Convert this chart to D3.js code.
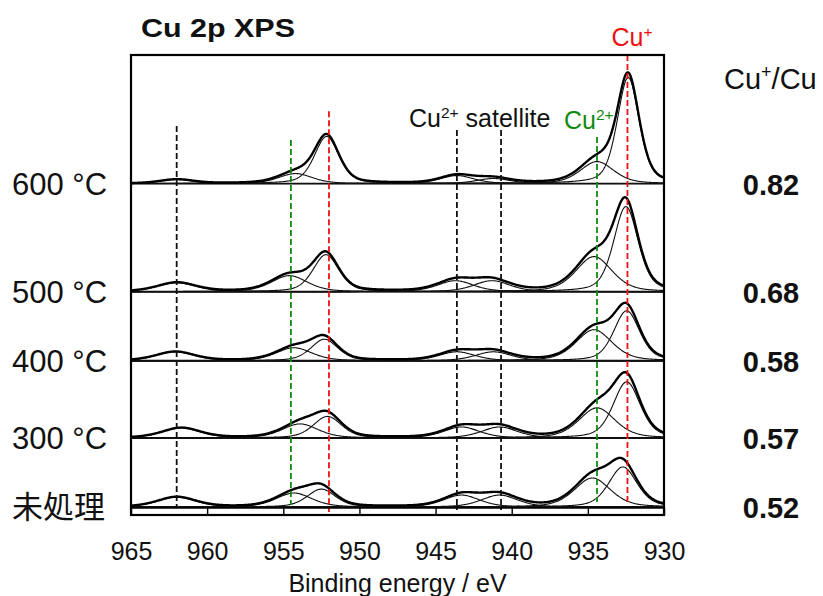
<!DOCTYPE html>
<html>
<head>
<meta charset="utf-8">
<script src="https://cdn.jsdelivr.net/npm/d3@7"></script>
<style>
  body { margin: 0; background: #fff; }
  text { font-family: "Liberation Sans", Arial, "Noto Sans CJK JP", sans-serif; }
</style>
</head>
<body>
<svg id="chart" width="823" height="596"></svg>
<script>
// ---- data -------------------------------------------------------------
const sampleLabels = ["600 °C", "500 °C", "400 °C", "300 °C", "未処理"];
const cuRatios = ["0.82", "0.68", "0.58", "0.57", "0.52"];
// vertical stacking offset of each spectrum (a.u.)
const stackOffsets = [288.4, 192.0, 130.4, 61.6, 0];
const energyTicks = [965, 960, 955, 950, 945, 940, 935, 930];

// fitted components: [centre (eV), height (a.u.), FWHM (eV)]
// order: Cu+ 2p3/2, Cu2+ 2p3/2, Cu+ 2p1/2, Cu2+ 2p1/2, sat 962, sat 943, sat 941
const peaks600 = [[932.35, 94.6, 1.7], [934.4, 19.6, 2.6], [952.15, 42.0, 1.9], [954.2, 8.9, 2.6], [962.0, 3.6, 2.6], [943.6, 7.1, 2.6], [941.2, 4.5, 2.6]];
const peaks500 = [[932.5, 75.9, 1.9], [934.6, 31.3, 2.8], [952.2, 33.0, 2.0], [954.6, 14.3, 2.8], [962.0, 8.0, 3.0], [943.7, 9.8, 2.8], [941.3, 9.8, 2.8]];
const peaks400 = [[932.45, 44.6, 2.0], [934.6, 27.7, 2.8], [952.3, 19.2, 2.1], [954.3, 11.6, 2.8], [962.1, 8.0, 3.0], [943.6, 8.0, 2.8], [941.2, 8.0, 2.8]];
const peaks300 = [[932.45, 50.0, 2.1], [934.4, 26.8, 2.8], [952.1, 19.2, 2.2], [953.9, 12.5, 2.8], [961.7, 8.9, 3.0], [943.3, 9.8, 2.8], [940.8, 9.8, 2.8]];
const peaksUntreated = [[932.7, 35.7, 2.2], [934.7, 25.9, 2.8], [952.5, 16.0, 2.2], [954.3, 12.5, 2.8], [962.0, 8.9, 3.0], [943.3, 10.7, 2.8], [940.8, 10.7, 2.8]];
const panelPeaks = [peaks600, peaks500, peaks400, peaks300, peaksUntreated];

// reference positions (eV) and their kind
const guideEnergies = [962.0, 954.5, 952.0, 943.6, 940.7, 934.4, 932.4];
const guideKinds = ["sat", "cu2", "cu1", "sat", "sat", "cu2", "cu1"];
// extent of each guide line on the intensity axis (a.u.)
const guideTop = [339.7, 327.2, 352.9, 336.1, 336.1, 329.9, 403.0];
const guideBottom = [0, 1.8, -4.5, -2.7, -2.7, 4.5, 4.5];

// ---- layout -----------------------------------------------------------
const svg = d3.select("#chart");
const plot = { left: 131, right: 664, top: 55, bottom: 515 };
const colors = { sat: "#111", cu2: "#118a11", cu1: "#ee1111" };

const x = d3.scaleLinear().domain([965, 930]).range([plot.left, plot.right]);
const y = d3.scaleLinear().domain([-7.1, 403]).range([plot.bottom, plot.top]);

svg.append("defs").append("clipPath").attr("id", "plotClip")
  .append("rect")
  .attr("x", plot.left).attr("y", plot.top)
  .attr("width", plot.right - plot.left).attr("height", plot.bottom - plot.top);

// pseudo-Voigt line shape
const eta = 0.4;
function pv(E, p) {
  const u = (E - p[0]) / p[2];
  return p[1] * (eta / (1 + 4 * u * u) + (1 - eta) * Math.exp(-4 * Math.LN2 * u * u));
}
const grid = d3.range(930, 965.0001, 0.05);

const gPlot = svg.append("g").attr("clip-path", "url(#plotClip)");

// panel separators / baselines
gPlot.selectAll("line.base").data(stackOffsets).join("line")
  .attr("class", "base")
  .attr("x1", plot.left).attr("x2", plot.right)
  .attr("y1", d => y(d)).attr("y2", d => y(d))
  .attr("stroke", "#000").attr("stroke-width", 1.8);

// spectra: thin fitted components plus the thicker envelope
const line = d3.line().x(d => x(d[0])).y(d => y(d[1])).curve(d3.curveLinear);
panelPeaks.forEach((peaks, i) => {
  const off = stackOffsets[i];
  const g = gPlot.append("g");
  peaks.forEach(p => {
    g.append("path")
      .datum(grid.map(E => [E, off + pv(E, p)]))
      .attr("d", line)
      .attr("fill", "none").attr("stroke", "#111").attr("stroke-width", 1.1);
  });
  g.append("path")
    .datum(grid.map(E => [E, off + d3.sum(peaks, p => pv(E, p))]))
    .attr("d", line)
    .attr("fill", "none").attr("stroke", "#000").attr("stroke-width", 2.4)
    .attr("stroke-linejoin", "round");
});

// dashed guides
svg.selectAll("line.guide").data(guideEnergies).join("line")
  .attr("class", "guide")
  .attr("x1", d => x(d)).attr("x2", d => x(d))
  .attr("y1", (d, i) => y(guideTop[i])).attr("y2", (d, i) => y(guideBottom[i]))
  .attr("stroke", (d, i) => colors[guideKinds[i]])
  .attr("stroke-width", 1.8)
  .attr("stroke-dasharray", "6,3");

// axis strip with inward ticks
svg.append("line")
  .attr("x1", plot.left).attr("x2", plot.right)
  .attr("y1", y(0) + 1).attr("y2", y(0) + 1)
  .attr("stroke", "#000").attr("stroke-width", 1.4);

const axis = d3.axisBottom(x).tickValues(energyTicks).tickFormat(d3.format("d"))
  .tickSizeInner(-(plot.bottom - y(0) - 1)).tickSizeOuter(0).tickPadding(27);
const gAxis = svg.append("g").attr("transform", `translate(0,${plot.bottom})`).call(axis);
gAxis.select(".domain").remove();
gAxis.selectAll(".tick line").attr("stroke", "#000").attr("stroke-width", 1.4);
gAxis.selectAll(".tick text")
  .attr("font-size", 25).attr("fill", "#111")
  .style("font-family", '"Liberation Sans", Arial, sans-serif');

// frame
svg.append("rect")
  .attr("x", plot.left).attr("y", plot.top)
  .attr("width", plot.right - plot.left).attr("height", plot.bottom - plot.top)
  .attr("fill", "none").attr("stroke", "#000").attr("stroke-width", 2.2);

// ---- text -------------------------------------------------------------
function richText(parent, xPos, yPos, parts, opts) {
  const t = parent.append("text")
    .attr("x", xPos).attr("y", yPos)
    .attr("font-size", opts.size)
    .attr("fill", opts.fill || "#111")
    .attr("text-anchor", opts.anchor || "start")
    .attr("font-weight", opts.weight || "normal");
  parts.forEach(p => {
    if (p.sup) {
      t.append("tspan").attr("dy", -opts.size * 0.38)
        .attr("font-size", opts.size * 0.62).text(p.t);
    } else if (p.back) {
      t.append("tspan").attr("dy", opts.size * 0.38).text(p.t);
    } else {
      t.append("tspan").text(p.t);
    }
  });
  return t;
}

svg.append("text")
  .attr("x", 141).attr("y", 37)
  .attr("font-size", 25).attr("font-weight", "bold").attr("fill", "#111")
  .attr("textLength", 154).attr("lengthAdjust", "spacingAndGlyphs")
  .text("Cu 2p XPS");

richText(svg, 632, 46, [{ t: "Cu" }, { t: "+", sup: true }], { size: 25, fill: "#ee1111", anchor: "middle" });
richText(svg, 409, 127, [{ t: "Cu" }, { t: "2+", sup: true }, { t: " satellite", back: true }], { size: 25 });
richText(svg, 564, 129, [{ t: "Cu" }, { t: "2+", sup: true }], { size: 25, fill: "#118a11" });
richText(svg, 724, 89, [{ t: "Cu" }, { t: "+", sup: true }, { t: "/Cu", back: true }], { size: 29 });

// sample labels and Cu+/Cu ratios, aligned to each spectrum's baseline
svg.selectAll("text.sample").data(sampleLabels).join("text")
  .attr("class", "sample")
  .attr("x", 12).attr("y", (d, i) => y(stackOffsets[i]) + 11)
  .attr("font-size", 31).attr("fill", "#111")
  .text(d => d);

svg.selectAll("text.ratio").data(cuRatios).join("text")
  .attr("class", "ratio")
  .attr("x", 771).attr("y", (d, i) => y(stackOffsets[i]) + 11)
  .attr("text-anchor", "middle")
  .attr("font-size", 29).attr("font-weight", "bold").attr("fill", "#111")
  .text(d => d);

svg.append("text")
  .attr("x", (plot.left + plot.right) / 2).attr("y", 592)
  .attr("text-anchor", "middle")
  .attr("font-size", 25).attr("fill", "#111")
  .text("Binding energy / eV");
</script>
</body>
</html>
